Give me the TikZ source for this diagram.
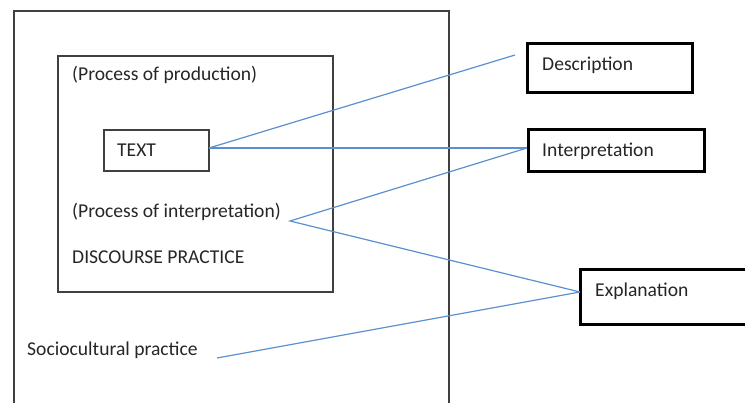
\documentclass[tikz,border=0pt]{standalone}
\usepackage{fontspec}
\setmainfont{Carlito}
\definecolor{link}{HTML}{5B8FD0}
\definecolor{frame}{HTML}{404040}
\begin{document}
\begin{tikzpicture}[x=1pt,y=-1pt,
  lbl/.style={inner sep=0pt,anchor=west,font=\fontsize{19.6}{22}\selectfont,text=black!85},
  thinbox/.style={draw=frame,line width=1.2pt},
  thickbox/.style={draw=black,line width=3pt},
  link/.style={draw=link,line width=1.2pt}]
\useasboundingbox (0,0) rectangle (745,403);
% outer and inner frames
\draw[thinbox] (14,420) -- (14,11) -- (449,11) -- (449,420);
\draw[thinbox] (58,56) rectangle (333,292);
\draw[thinbox] (104,130) rectangle (209,171);
\coordinate (textR) at (209,148);
% labels
\node[lbl] (prod) at (72,75) {(Process of production)};
\node[lbl] (txt) at (117,150) {TEXT};
\node[lbl] (interp) at (72,212) {(Process of interpretation)};
\node[lbl] (disc) at (72,257) {DISCOURSE PRACTICE};
\node[lbl] (socio) at (27,350) {Sociocultural practice};
% right boxes
\draw[thickbox] (527,44) rectangle (692,93);
\node[lbl] (desc) at (542,65) {Description};
\draw[thickbox] (528,130) rectangle (704,172);
\node[lbl] (inter) at (542,151) {Interpretation};
\draw[thickbox] (750,270) -- (580,270) -- (580,325) -- (750,325);
\node[lbl] (expl) at (595,291) {Explanation};
% connector points
\coordinate (descIn) at (515,55);
\coordinate (interIn) at (527,148);
\coordinate (fork) at (290,221);
\coordinate (explIn) at (580,292);
\coordinate (socioR) at (217,358);
% connectors
\draw[link] (textR) -- (descIn);
\draw[link] (textR) -- (interIn);
\draw[link] (interIn) -- (fork) -- (explIn);
\draw[link] (socioR) -- (explIn);
\end{tikzpicture}
\end{document}
